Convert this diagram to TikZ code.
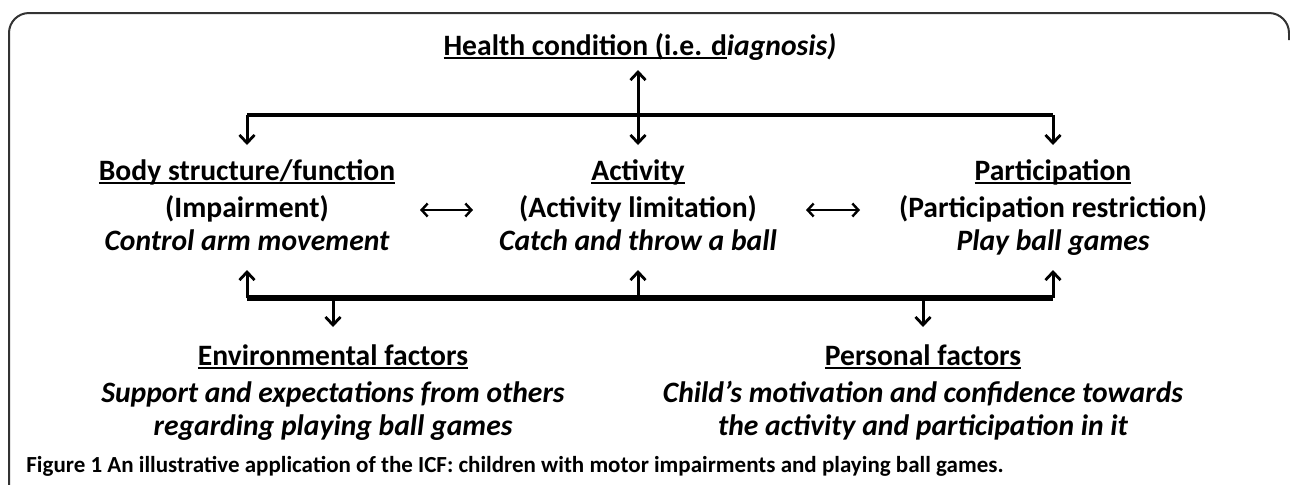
\documentclass[tikz,border=0pt]{standalone}
\usepackage{fontspec}
\setmainfont{Carlito}
\usetikzlibrary{arrows.meta}
\newcommand\myul[1]{\setbox0\hbox{#1}\rlap{\rule[-2.2pt]{\wd0}{1.4pt}}\box0}
\begin{document}
\begin{tikzpicture}[x=0.5pt,y=-0.5pt,
  txt/.style={anchor=base,inner sep=0pt,font=\fontsize{14.8}{16}\selectfont\bfseries},
  itx/.style={txt,font=\fontsize{14.8}{16}\selectfont\bfseries\itshape},
  captxt/.style={anchor=base west,inner sep=0pt,font=\fontsize{11.5}{13}\selectfont\bfseries},
  arr/.style={line width=1.5pt,-{Straight Barb[length=4pt,width=7.5pt,line width=1.4pt]}},
  darr/.style={line width=1.5pt,{Straight Barb[length=4pt,width=7.5pt,line width=1.4pt]}-{Straight Barb[length=4pt,width=7.5pt,line width=1.4pt]}},
  sarr/.style={line width=1.2pt,{Straight Barb[length=3pt,width=6.5pt,line width=1.2pt]}-{Straight Barb[length=3pt,width=6.5pt,line width=1.2pt]}},
  bar/.style={line width=2pt},
  bbar/.style={line width=2.6pt}]
\useasboundingbox (0,0) rectangle (1290,484);
% frame
\draw[line width=1pt,black!80,rounded corners=10pt] (9,490) -- (9,13) -- (1289,13) -- (1289,40);
% health condition
\node[txt] (hc) at (640,55) {\myul{Health condition (i.e. d}\textit{iagnosis)}};
% columns
\node[txt] (b1) at (247,180) {\myul{Body structure/function}};
\node[txt] (b2) at (247,217) {(Impairment)};
\node[itx] (b3) at (247,250) {Control arm movement};
\node[txt] (a1) at (638,180) {\myul{Activity}};
\node[txt] (a2) at (638,217) {(Activity limitation)};
\node[itx] (a3) at (638,250) {Catch and throw a ball};
\node[txt] (p1) at (1053,180) {\myul{Participation}};
\node[txt] (p2) at (1053,217) {(Participation restriction)};
\node[itx] (p3) at (1053,250) {Play ball games};
% bottom factors
\node[txt] (e1) at (333,365) {\myul{Environmental factors}};
\node[itx] (e2) at (333,402) {Support and expectations from others};
\node[itx] (e3) at (333,435) {regarding playing ball games};
\node[txt] (f1) at (923,365) {\myul{Personal factors}};
\node[itx] (f2) at (923,402) {Child’s motivation and confidence towards};
\node[itx] (f3) at (923,435) {the activity and participation in it};
% caption
\node[captxt] (capt) at (26,472) {Figure 1 An illustrative application of the ICF: children with motor impairments and playing ball games.};
% top connectors
\coordinate (tL) at (247,115);
\coordinate (tC) at (638,115);
\coordinate (tR) at (1053,115);
\coordinate (hcb) at (638,70);
\coordinate (b1t) at (247,145);
\coordinate (a1t) at (638,145);
\coordinate (p1t) at (1053,145);
\draw[bar] (tL) -- (tR);
\draw[arr] (tL) -- (b1t);
\draw[arr] (tR) -- (p1t);
\draw[darr] (hcb) -- (a1t);
% horizontal double arrows
\coordinate (ba1) at (420,210);
\coordinate (ba2) at (473,210);
\coordinate (ap1) at (806,210);
\coordinate (ap2) at (860,210);
\draw[sarr] (ba1) -- (ba2);
\draw[sarr] (ap1) -- (ap2);
% bottom connectors
\coordinate (uL) at (247,298);
\coordinate (uC) at (638,298);
\coordinate (uR) at (1053,298);
\coordinate (b3b) at (247,270);
\coordinate (a3b) at (638,270);
\coordinate (p3b) at (1053,270);
\coordinate (dE) at (333,298);
\coordinate (dF) at (923,298);
\coordinate (e1t) at (333,327);
\coordinate (f1t) at (923,327);
\draw[bbar] (uL) -- (uR);
\draw[arr] (uL) -- (b3b);
\draw[arr] (uC) -- (a3b);
\draw[arr] (uR) -- (p3b);
\draw[arr] (dE) -- (e1t);
\draw[arr] (dF) -- (f1t);
\end{tikzpicture}
\end{document}
